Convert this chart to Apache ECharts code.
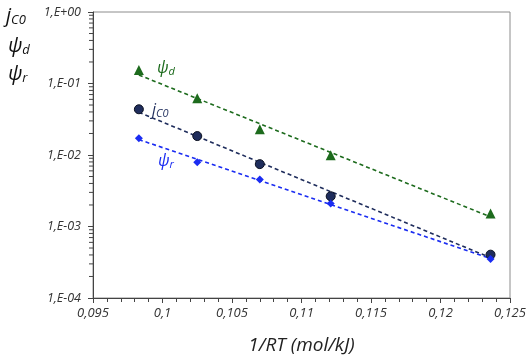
<!DOCTYPE html>
<html>
<head>
<meta charset="utf-8">
<script src="https://cdn.jsdelivr.net/npm/echarts@6/dist/echarts.min.js"></script>
<style>
  html, body { margin: 0; padding: 0; background: #fff; }
  #main { width: 529px; height: 360px; }
</style>
</head>
<body>
<div id="main"></div>
<script>
// 1/RT (mol/kJ)
const invRT = [0.0983, 0.1025, 0.1070, 0.1121, 0.1236];
const psiD = [0.154, 0.062, 0.0229, 0.0099, 0.00152];
const jC0 = [0.0436, 0.0184, 0.00745, 0.00265, 0.000404];
const psiR = [0.0171, 0.0079, 0.00455, 0.0021, 0.00035];
// log minor ticks 2..9 per decade
const minorTicks = [];
[-4, -3, -2, -1].forEach(e => {
  for (let k = 2; k <= 9; k++) minorTicks.push(k * Math.pow(10, e));
});

const GREEN = '#1d6b1d';
const NAVY = '#1f2d5c';
const BLUE = '#1a2cf2';
const TICK = '#444';
const FONT = '"Open Sans", "Liberation Sans", sans-serif';
const X_MIN = 0.095;

// exponential trend line (least squares on log10)
function trend(xs, ys) {
  const n = xs.length;
  const ly = ys.map(v => Math.log10(v));
  const mx = xs.reduce((a, b) => a + b, 0) / n;
  const my = ly.reduce((a, b) => a + b, 0) / n;
  let sxy = 0, sxx = 0;
  xs.forEach((x, i) => {
    sxy += (x - mx) * (ly[i] - my);
    sxx += (x - mx) * (x - mx);
  });
  const b = sxy / sxx, a = my - b * mx;
  const x0 = xs[0], x1 = xs[n - 1];
  return [[x0, Math.pow(10, a + b * x0)], [x1, Math.pow(10, a + b * x1)]];
}
const pairs = ys => invRT.map((x, i) => [x, ys[i]]);

function fmtLog(v) {
  const e = Math.round(Math.log10(v));
  const s = e < 0 ? '-' : '+';
  const a = Math.abs(e);
  return '1,E' + s + (a < 10 ? '0' : '') + a;
}

const chart = echarts.init(document.getElementById('main'));
const dashLine = (name, ys, color) => ({
  name: name + ' trend',
  type: 'line',
  data: trend(invRT, ys),
  symbol: 'none',
  silent: true,
  lineStyle: { color: color, width: 1.6, type: [4, 3] },
  z: 2
});
const scatter = (name, ys, color, symbol, size, border) => ({
  name: name,
  type: 'scatter',
  data: pairs(ys),
  symbol: symbol,
  symbolSize: size,
  itemStyle: { color: color, borderColor: border || color, borderWidth: border ? 1 : 0, opacity: 1 },
  z: 3
});
const label = (left, top, main, sub, color, size, subSize, pad) => ({
  type: 'text', left: left, top: top, style: {
    text: '{m|' + main + '}{s|' + sub + '}',
    rich: {
      m: { fontFamily: FONT, fontStyle: 'italic', fontSize: size, fill: color },
      s: { fontFamily: FONT, fontStyle: 'italic', fontSize: subSize, fill: color, padding: [pad, 0, 0, 0] }
    }
  }
});

chart.setOption({
  animation: false,
  grid: { left: 93, right: 19, top: 12, bottom: 62, show: true, borderColor: '#8c8c8c', borderWidth: 1 },
  xAxis: {
    type: 'value',
    min: X_MIN,
    max: 0.125,
    interval: 0.005,
    name: '1/RT (mol/kJ)',
    nameLocation: 'middle',
    nameGap: 38,
    nameTextStyle: { fontFamily: FONT, fontStyle: 'italic', fontSize: 19, color: '#222' },
    axisLine: { onZero: false, lineStyle: { color: TICK, width: 1 } },
    axisTick: { show: true, inside: false, length: 5, lineStyle: { color: TICK } },
    minorTick: { show: true, splitNumber: 5, length: 4, lineStyle: { color: TICK } },
    splitLine: { show: false },
    axisLabel: {
      margin: 9,
      fontFamily: FONT, fontStyle: 'italic', fontSize: 13, color: '#333',
      formatter: v => String(+v.toFixed(3)).replace('.', ',')
    }
  },
  yAxis: {
    type: 'log',
    logBase: 10,
    min: 1e-4,
    max: 1,
    axisLine: { show: true, lineStyle: { color: TICK, width: 1 } },
    axisTick: { show: true, length: 5, lineStyle: { color: TICK } },
    splitLine: { show: false },
    axisLabel: {
      margin: 12,
      fontFamily: FONT, fontStyle: 'italic', fontSize: 12.5, color: '#333',
      formatter: fmtLog
    }
  },
  series: [
    dashLine('psiD', psiD, GREEN),
    dashLine('jC0', jC0, NAVY),
    dashLine('psiR', psiR, BLUE),
    scatter('ψd', psiD, GREEN, 'triangle', 10),
    scatter('jC0', jC0, NAVY, 'circle', 9, '#0b1020'),
    scatter('ψr', psiR, BLUE, 'diamond', 8),
    {
      // minor ticks of the log y axis
      name: 'minor',
      type: 'custom',
      silent: true,
      clip: false,
      data: minorTicks.map(v => [X_MIN, v]),
      renderItem: (params, api) => {
        const p = api.coord([api.value(0), api.value(1)]);
        return {
          type: 'line',
          shape: { x1: p[0] - 4, y1: p[1], x2: p[0], y2: p[1] },
          style: { stroke: TICK, lineWidth: 1 }
        };
      }
    }
  ],
  graphic: [
    // left-hand quantity labels
    label(6, 6, 'j', 'C0', '#111', 20, 13, 9),
    label(8, 36, 'ψ', 'd', '#111', 20, 13, 9),
    label(8, 64, 'ψ', 'r', '#111', 20, 13, 9),
    // in-plot series labels
    label(157, 60, 'ψ', 'd', GREEN, 16, 11, 7),
    label(152, 102, 'j', 'C0', NAVY, 16, 11, 7),
    label(158, 153, 'ψ', 'r', BLUE, 16, 11, 7)
  ]
});
</script>
</body>
</html>
